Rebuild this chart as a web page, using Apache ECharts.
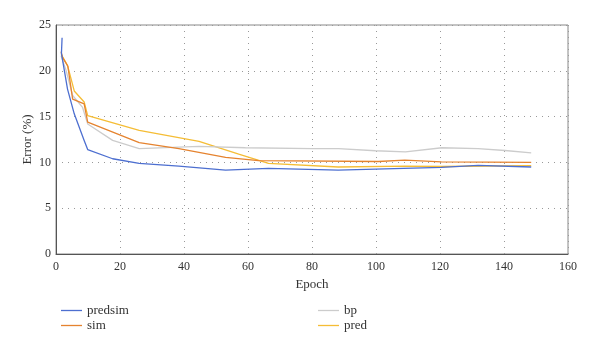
<!DOCTYPE html>
<html>
<head>
<meta charset="utf-8">
<script src="https://cdn.jsdelivr.net/npm/echarts@6/dist/echarts.min.js"></script>
<style>html,body{margin:0;padding:0;background:#fff}#c{width:600px;height:352px}</style>
</head>
<body>
<div id="c"></div>
<script>
var seriesNames = ['predsim', 'sim', 'bp', 'pred'];
var predsim = [[1.9,23.6],[1.7,21.9],[3.6,18.0],[5.7,15.3],[8.8,12.4],[9.9,11.4],[17.7,10.4],[26,9.9],[38.4,9.6],[53,9.15],[66.4,9.35],[88.2,9.15],[99.8,9.27],[120.4,9.45],[131.9,9.67],[148.5,9.5]];
var sim = [[1.6,22.1],[2,21.5],[3.7,20.5],[5.2,16.9],[8.8,16.4],[9.9,14.4],[26,12.15],[38.4,11.5],[53,10.55],[63.3,10.2],[100.7,10.1],[109,10.25],[120.4,10.05],[148.5,10.0]];
var bp = [[1.6,21.6],[3.1,20.1],[5.2,17.3],[8.3,16.0],[9.9,14.2],[17.7,12.4],[26,11.5],[44.7,11.75],[59.2,11.6],[80,11.5],[88.3,11.5],[99.8,11.27],[109.2,11.15],[120.6,11.6],[131.9,11.5],[140.3,11.3],[148.5,11.05]];
var pred = [[1.6,21.8],[3.6,20.6],[5.7,17.8],[8.8,16.6],[9.9,15.1],[26,13.5],[44.7,12.3],[57.1,10.9],[66.4,9.9],[88.2,9.5],[109,9.6],[120.4,9.55],[148.5,9.65]];
var colors = ['#4d6fd0', '#e5832f', '#cccccc', '#f5bd35'];
var dataList = [predsim, sim, bp, pred];

var font = 'Liberation Serif';
var chart = echarts.init(document.getElementById('c'), null, {renderer: 'canvas'});
var series = seriesNames.map(function (n, i) {
  return {
    name: n, type: 'line', data: dataList[i], showSymbol: false, symbol: 'none',
    lineStyle: {width: 1.3, color: colors[i]}, itemStyle: {color: colors[i]}, z: 10 - i
  };
});
chart.setOption({
  animation: false,
  color: colors,
  grid: {left: 56, right: 32, top: 25, bottom: 98, show: true, borderColor: '#888', borderWidth: 1},
  xAxis: {
    type: 'value', min: 0, max: 160, interval: 20,
    name: 'Epoch', nameLocation: 'middle', nameGap: 22,
    nameTextStyle: {fontFamily: font, fontSize: 13, color: '#333'},
    axisLine: {show: true, lineStyle: {color: '#555'}},
    axisTick: {show: false},
    axisLabel: {fontFamily: font, fontSize: 12, color: '#333', margin: 7},
    splitLine: {show: true, lineStyle: {type: [1, 5], color: '#999'}}
  },
  yAxis: {
    type: 'value', min: 0, max: 25, interval: 5,
    name: 'Error (%)', nameLocation: 'middle', nameGap: 22, nameMoveOverlap: false,
    nameTextStyle: {fontFamily: font, fontSize: 13, color: '#333'},
    axisLine: {show: true, lineStyle: {color: '#555'}},
    axisTick: {show: false},
    axisLabel: {fontFamily: font, fontSize: 12, color: '#333', margin: 5},
    splitLine: {show: true, lineStyle: {type: [1, 5], color: '#999'}}
  },
  legend: [
    {data: ['predsim', 'sim'], orient: 'vertical', left: 56, top: 299, itemWidth: 21, itemHeight: 10, itemGap: 2,
     icon: 'path://M0,4 L21,4 L21,5.3 L0,5.3 Z',
     textStyle: {fontFamily: font, fontSize: 13, color: '#333'}},
    {data: ['bp', 'pred'], orient: 'vertical', left: 313, top: 299, itemWidth: 21, itemHeight: 10, itemGap: 2,
     icon: 'path://M0,4 L21,4 L21,5.3 L0,5.3 Z',
     textStyle: {fontFamily: font, fontSize: 13, color: '#333'}}
  ],
  series: series
});
</script>
</body>
</html>
